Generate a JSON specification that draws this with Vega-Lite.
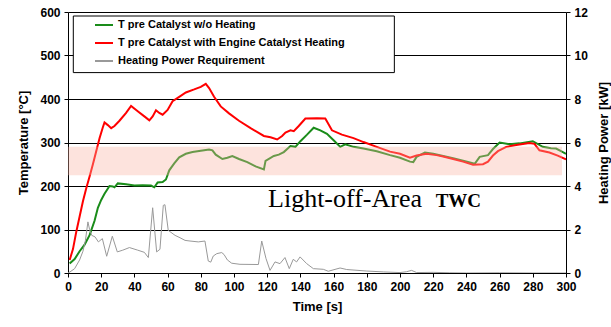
{
  "$schema": "https://vega.github.io/schema/vega-lite/v6.json",
  "width": 498,
  "height": 261,
  "autosize": "none",
  "padding": {"left": 68, "top": 12, "right": 45, "bottom": 54},
  "background": "white",
  "config": {
    "view": {"stroke": null},
    "font": "Liberation Sans",
    "axis": {
      "labelFont": "Liberation Sans", "labelFontWeight": "bold", "labelFontSize": 12, "labelColor": "black",
      "titleFont": "Liberation Sans", "titleFontWeight": "bold", "titleFontSize": 13, "titleColor": "black",
      "domainColor": "black", "tickColor": "black", "tickSize": 4, "labelPadding": 4, "labelOverlap": false
    },
    "axisX": {"labelOverlap": false, "labelSeparation": 0, "labelFlush": false, "labelBound": false, "grid": false}
  },
  "datasets": {
    "green": [
      {"t":1,"v":22},{"t":4,"v":32},{"t":7,"v":50},{"t":10,"v":65},{"t":13,"v":87},{"t":16,"v":120},{"t":18,"v":150},{"t":20,"v":168},{"t":22,"v":182},{"t":25,"v":200},{"t":27,"v":199},{"t":28,"v":197},{"t":30,"v":206},{"t":35,"v":204},{"t":40,"v":201},{"t":45,"v":202},{"t":50,"v":201},{"t":52,"v":197},{"t":54,"v":208},{"t":57,"v":209},{"t":59,"v":215},{"t":61,"v":236},{"t":64,"v":252},{"t":67,"v":266},{"t":71,"v":274},{"t":75,"v":278},{"t":80,"v":281},{"t":85,"v":284},{"t":87,"v":282},{"t":89,"v":272},{"t":93,"v":262},{"t":96,"v":265},{"t":99,"v":269},{"t":103,"v":262},{"t":108,"v":255},{"t":113,"v":245},{"t":118,"v":238},{"t":119,"v":258},{"t":124,"v":269},{"t":127,"v":272},{"t":130,"v":278},{"t":134,"v":292},{"t":137,"v":290},{"t":140,"v":303},{"t":144,"v":318},{"t":148,"v":334},{"t":152,"v":328},{"t":156,"v":320},{"t":160,"v":305},{"t":164,"v":290},{"t":167,"v":296},{"t":172,"v":290},{"t":178,"v":286},{"t":186,"v":280},{"t":194,"v":271},{"t":200,"v":265},{"t":206,"v":256},{"t":208,"v":255},{"t":210,"v":267},{"t":215,"v":277},{"t":220,"v":274},{"t":226,"v":269},{"t":232,"v":264},{"t":238,"v":258},{"t":245,"v":251},{"t":248,"v":267},{"t":253,"v":271},{"t":256,"v":285},{"t":260,"v":300},{"t":266,"v":296},{"t":272,"v":298},{"t":280,"v":303},{"t":286,"v":290},{"t":291,"v":287},{"t":294,"v":286},{"t":297,"v":280},{"t":300,"v":274}
    ],
    "red": [
      {"t":1,"v":30},{"t":3,"v":55},{"t":5,"v":95},{"t":7,"v":130},{"t":9,"v":165},{"t":11,"v":195},{"t":13,"v":222},{"t":15,"v":250},{"t":17,"v":280},{"t":19,"v":310},{"t":21,"v":335},{"t":22,"v":346},{"t":24,"v":340},{"t":26,"v":333},{"t":28,"v":338},{"t":31,"v":350},{"t":35,"v":368},{"t":38,"v":384},{"t":42,"v":372},{"t":46,"v":360},{"t":49,"v":351},{"t":51,"v":360},{"t":53,"v":374},{"t":55,"v":368},{"t":57,"v":364},{"t":60,"v":375},{"t":63,"v":395},{"t":67,"v":405},{"t":71,"v":415},{"t":76,"v":422},{"t":80,"v":428},{"t":83,"v":435},{"t":85,"v":425},{"t":88,"v":405},{"t":92,"v":383},{"t":97,"v":367},{"t":103,"v":350},{"t":110,"v":333},{"t":118,"v":315},{"t":122,"v":312},{"t":126,"v":307},{"t":129,"v":315},{"t":131,"v":323},{"t":134,"v":328},{"t":136,"v":326},{"t":139,"v":338},{"t":143,"v":355},{"t":150,"v":356},{"t":155,"v":355},{"t":159,"v":328},{"t":165,"v":318},{"t":172,"v":310},{"t":178,"v":301},{"t":186,"v":290},{"t":194,"v":279},{"t":200,"v":274},{"t":206,"v":265},{"t":210,"v":270},{"t":216,"v":274},{"t":222,"v":271},{"t":226,"v":268},{"t":232,"v":262},{"t":238,"v":256},{"t":244,"v":249},{"t":250,"v":250},{"t":253,"v":256},{"t":256,"v":270},{"t":259,"v":280},{"t":264,"v":290},{"t":270,"v":294},{"t":278,"v":299},{"t":281,"v":297},{"t":284,"v":282},{"t":290,"v":277},{"t":295,"v":270},{"t":300,"v":261}
    ],
    "power": [
      {"t":0,"p":0},{"t":1.2,"p":0.05},{"t":4,"p":0.2},{"t":7,"p":0.6},{"t":9,"p":1.0},{"t":10.5,"p":1.5},{"t":12,"p":2.35},{"t":13,"p":2.0},{"t":14.3,"p":1.73},{"t":16.3,"p":1.66},{"t":18.3,"p":1.43},{"t":20.7,"p":1.58},{"t":23.3,"p":0.77},{"t":26.7,"p":1.69},{"t":29.7,"p":0.97},{"t":33,"p":1.05},{"t":37,"p":1.17},{"t":42,"p":1.05},{"t":46,"p":0.95},{"t":48.4,"p":0.71},{"t":51,"p":3.0},{"t":53.4,"p":0.97},{"t":55.4,"p":1.09},{"t":57.4,"p":3.11},{"t":58.4,"p":3.14},{"t":60.4,"p":1.96},{"t":64.5,"p":1.73},{"t":67.5,"p":1.62},{"t":70.5,"p":1.5},{"t":73.5,"p":1.47},{"t":78.5,"p":1.43},{"t":82.5,"p":1.47},{"t":84.5,"p":0.55},{"t":86,"p":0.5},{"t":87.5,"p":0.78},{"t":89.6,"p":0.89},{"t":92.6,"p":0.94},{"t":94,"p":0.85},{"t":96,"p":0.6},{"t":98.6,"p":0.45},{"t":103.6,"p":0.4},{"t":114.7,"p":0.39},{"t":116.7,"p":1.47},{"t":119.3,"p":0.66},{"t":121.7,"p":0.12},{"t":124.7,"p":0.51},{"t":127.7,"p":0.43},{"t":130.7,"p":0.71},{"t":133.3,"p":0.2},{"t":135.7,"p":0.63},{"t":137.7,"p":0.51},{"t":139.8,"p":0.74},{"t":143.8,"p":0.43},{"t":147.8,"p":0.2},{"t":153.8,"p":0.17},{"t":156.8,"p":0.08},{"t":163.9,"p":0.23},{"t":167.9,"p":0.16},{"t":180,"p":0.09},{"t":190,"p":0.05},{"t":200,"p":0.02},{"t":204,"p":0.06},{"t":207,"p":0.12},{"t":210,"p":0.02},{"t":220,"p":0.03},{"t":230,"p":0.01},{"t":240,"p":0.0},{"t":260,"p":0.01},{"t":280,"p":0.0},{"t":300,"p":0.0}
    ],
    "band": [{"t":0,"t1":297.6,"lo":225,"hi":290}],
    "labels": [{"t":120.5,"T":151.7,"text":"Light-off-Area"}],
    "labels2": [{"t":221.5,"T":151.7,"text":"TWC"}]
  },
  "layer": [
    {
      "layer": [
        {
          "data": {"name": "green"},
          "mark": {"type": "line", "strokeWidth": 2, "clip": true},
          "encoding": {
            "x": {"field": "t", "type": "quantitative", "scale": {"domain": [0, 300], "nice": false},
                  "axis": {"values": [0,20,40,60,80,100,120,140,160,180,200,220,240,260,280,300], "grid": false, "title": "Time [s]", "titlePadding": 8, "labelOverlap": false, "labelFlush": false, "labelBound": false}},
            "y": {"field": "v", "type": "quantitative", "scale": {"domain": [0, 600], "nice": false},
                  "axis": {"values": [0,100,200,300,400,500,600], "grid": true, "gridColor": "black", "gridOpacity": 1, "gridWidth": 1, "title": "Temperature [°C]", "titlePadding": 9}},
            "color": {"datum": "T pre Catalyst w/o Heating", "type": "nominal",
              "scale": {"domain": ["T pre Catalyst w/o Heating", "T pre Catalyst with Engine Catalyst Heating", "Heating Power Requirement"], "range": ["#1a8c1a", "#ff0000", "#999999"]},
              "legend": {"title": null, "orient": "none", "legendX": 26, "legendY": 3, "symbolType": "stroke", "symbolSize": 324, "symbolStrokeWidth": 2, "labelFont": "Liberation Sans", "labelFontWeight": "bold", "labelFontSize": 11, "labelColor": "black", "labelOffset": 4, "rowPadding": 3, "padding": 0, "labelLimit": 400}}
          }
        },
        {
          "data": {"name": "red"},
          "mark": {"type": "line", "strokeWidth": 2, "clip": true},
          "encoding": {
            "x": {"field": "t", "type": "quantitative", "axis": {"values": [0,20,40,60,80,100,120,140,160,180,200,220,240,260,280,300], "grid": false, "title": "Time [s]", "titlePadding": 8, "labelOverlap": false, "labelFlush": false, "labelBound": false}},
            "y": {"field": "v", "type": "quantitative"},
            "color": {"datum": "T pre Catalyst with Engine Catalyst Heating", "type": "nominal"}
          }
        },
        {
          "data": {"name": "band"},
          "mark": {"type": "rect", "color": "#fab2a1", "opacity": 0.36},
          "encoding": {
            "x": {"field": "t", "type": "quantitative", "axis": {"values": [0,20,40,60,80,100,120,140,160,180,200,220,240,260,280,300], "grid": false, "title": "Time [s]", "titlePadding": 8, "labelOverlap": false, "labelFlush": false, "labelBound": false}},
            "x2": {"field": "t1"},
            "y": {"field": "lo", "type": "quantitative"},
            "y2": {"field": "hi"}
          }
        },
        {
          "data": {"values": [{}]},
          "mark": {"type": "rect", "fill": "white", "stroke": "black", "strokeWidth": 1},
          "encoding": {
            "x": {"datum": 3.2, "type": "quantitative", "axis": {"values": [0,20,40,60,80,100,120,140,160,180,200,220,240,260,280,300], "grid": false, "title": "Time [s]", "titlePadding": 8, "labelOverlap": false, "labelFlush": false, "labelBound": false}},
            "x2": {"datum": 196.6},
            "y": {"datum": 460.7, "type": "quantitative"},
            "y2": {"datum": 590.8}
          }
        },
        {
          "data": {"name": "labels"},
          "mark": {"type": "text", "font": "Liberation Serif", "fontSize": 26, "align": "left", "baseline": "alphabetic", "color": "black"},
          "encoding": {
            "x": {"field": "t", "type": "quantitative", "axis": {"values": [0,20,40,60,80,100,120,140,160,180,200,220,240,260,280,300], "grid": false, "title": "Time [s]", "titlePadding": 8, "labelOverlap": false, "labelFlush": false, "labelBound": false}},
            "y": {"field": "T", "type": "quantitative"},
            "text": {"field": "text"}
          }
        },
        {
          "data": {"name": "labels2"},
          "mark": {"type": "text", "font": "Liberation Serif", "fontSize": 19, "fontWeight": "bold", "align": "left", "baseline": "alphabetic", "color": "black"},
          "encoding": {
            "x": {"field": "t", "type": "quantitative", "axis": {"values": [0,20,40,60,80,100,120,140,160,180,200,220,240,260,280,300], "grid": false, "title": "Time [s]", "titlePadding": 8, "labelOverlap": false, "labelFlush": false, "labelBound": false}},
            "y": {"field": "T", "type": "quantitative"},
            "text": {"field": "text"}
          }
        }
      ]
    },
    {
      "data": {"name": "power"},
      "mark": {"type": "line", "strokeWidth": 1, "clip": true},
      "encoding": {
        "x": {"field": "t", "type": "quantitative", "axis": {"values": [0,20,40,60,80,100,120,140,160,180,200,220,240,260,280,300], "grid": false, "title": "Time [s]", "titlePadding": 8, "labelOverlap": false, "labelFlush": false, "labelBound": false}},
        "y": {"field": "p", "type": "quantitative", "scale": {"domain": [0, 12], "nice": false},
              "axis": {"orient": "right", "values": [0,2,4,6,8,10,12], "grid": false, "title": "Heating Power [kW]", "titleAngle": 270, "titlePadding": 23}},
        "color": {"datum": "Heating Power Requirement", "type": "nominal"}
      }
    }
  ],
  "resolve": {"scale": {"y": "independent"}}
}
